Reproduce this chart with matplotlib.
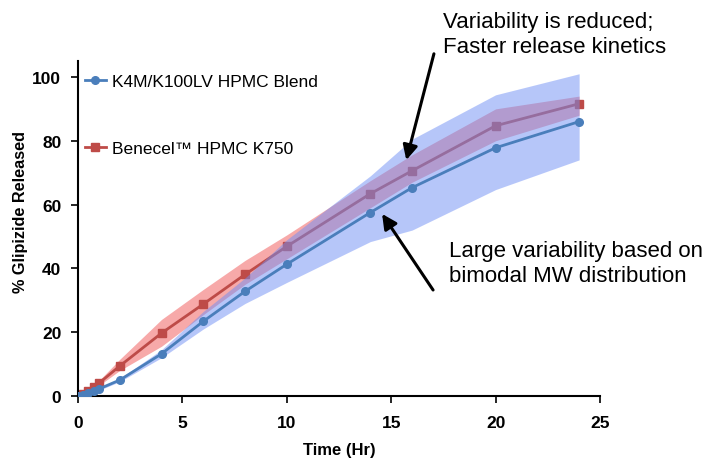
import matplotlib
matplotlib.use("Agg")
import matplotlib.pyplot as plt
import numpy as np

plt.rcParams['font.family'] = ['Liberation Sans', 'DejaVu Sans']

time = [0, 0.25, 0.5, 0.75, 1, 2, 4, 6, 8, 10, 14, 16, 20, 24]
blend = [0, 0.3, 0.8, 1.5, 2.2, 5.0, 13.2, 23.4, 32.8, 41.3, 57.5, 65.3, 77.8, 86.0]
blend_lo = [0, 0.2, 0.6, 1.2, 1.8, 4.5, 12.0, 21.0, 29.0, 35.6, 48.4, 52.0, 64.7, 74.0]
blend_hi = [0, 0.4, 1.0, 1.8, 2.6, 5.5, 14.5, 26.5, 37.0, 49.0, 69.0, 80.5, 94.4, 101.0]
k750 = [0, 0.5, 1.6, 2.7, 4.0, 9.4, 19.7, 28.8, 38.1, 46.9, 63.4, 70.6, 84.7, 91.6]
k750_lo = [0, 0.3, 1.2, 2.2, 3.3, 8.0, 15.6, 25.5, 35.0, 43.0, 59.0, 67.0, 80.0, 88.0]
k750_hi = [0, 0.7, 2.0, 3.3, 4.8, 11.5, 24.0, 33.4, 42.5, 50.5, 67.5, 75.6, 90.0, 94.0]

label_blend = "K4M/K100LV HPMC Blend"
label_k750 = "Benecel\u2122 HPMC K750"

fig = plt.figure(figsize=(7.06, 4.6), dpi=100)
ax = fig.add_axes([78/706, 1-397/460, (600-78)/706, (397-62)/460])

blue = '#4a7ebb'
red = '#be4b48'

ax.fill_between(time, k750_lo, k750_hi, color='#f7a9a9', lw=0, zorder=1)
l2, = ax.plot(time, k750, color=red, marker='s', markersize=6, lw=2, zorder=2, label=label_k750)
ax.fill_between(time, blend_lo, blend_hi, color='#6f8ff5', alpha=0.5, lw=0, zorder=3)
l1, = ax.plot(time, blend, color=blue, marker='o', markersize=5.5, lw=2, zorder=4, label=label_blend)

ax.set_xlim(0, 25)
ax.set_ylim(0, 105)
ax.set_xticks([0, 5, 10, 15, 20, 25])
ax.set_yticks([0, 20, 40, 60, 80, 100])
for s in ['top', 'right']:
    ax.spines[s].set_visible(False)
for s in ['left', 'bottom']:
    ax.spines[s].set_linewidth(1.5)
ax.tick_params(direction='out', length=5, width=1.2, labelsize=12.5)
ax.tick_params(axis='y', pad=7)
ax.tick_params(axis='x', pad=9)
for t in ax.get_xticklabels() + ax.get_yticklabels():
    t.set_fontweight('bold')
ax.set_xlabel('Time (Hr)', fontsize=12, fontweight='bold', labelpad=8)
ax.set_ylabel('% Glipizide Released', fontsize=11.7, fontweight='bold', labelpad=10)
ax.yaxis.set_label_coords(-0.095, (397-212)/335)

leg = ax.legend(handles=[l1, l2], loc='upper left', bbox_to_anchor=(0.0, 0.981), frameon=False,
                fontsize=12.5, handlelength=1.2, handletextpad=0.35, labelspacing=2.97,
                borderaxespad=0.1, borderpad=0.3)

ax.annotate('', xy=(15.69, 73.1), xytext=(17.08, 108.1), annotation_clip=False,
            arrowprops=dict(arrowstyle='-|>', color='black', lw=2.2, mutation_scale=22))
ax.annotate('', xy=(14.49, 57.8), xytext=(17.08, 32.5), annotation_clip=False,
            arrowprops=dict(arrowstyle='-|>', color='black', lw=2.2, mutation_scale=22))

fig.text(443/706, 1-35/460, 'Variability is reduced;\nFaster release kinetics',
         fontsize=16, ha='left', va='center', linespacing=1.2)
fig.text(449/706, 1-264/460, 'Large variability based on\nbimodal MW distribution',
         fontsize=16, ha='left', va='center', linespacing=1.2)

fig.savefig('out.png', dpi=100)
